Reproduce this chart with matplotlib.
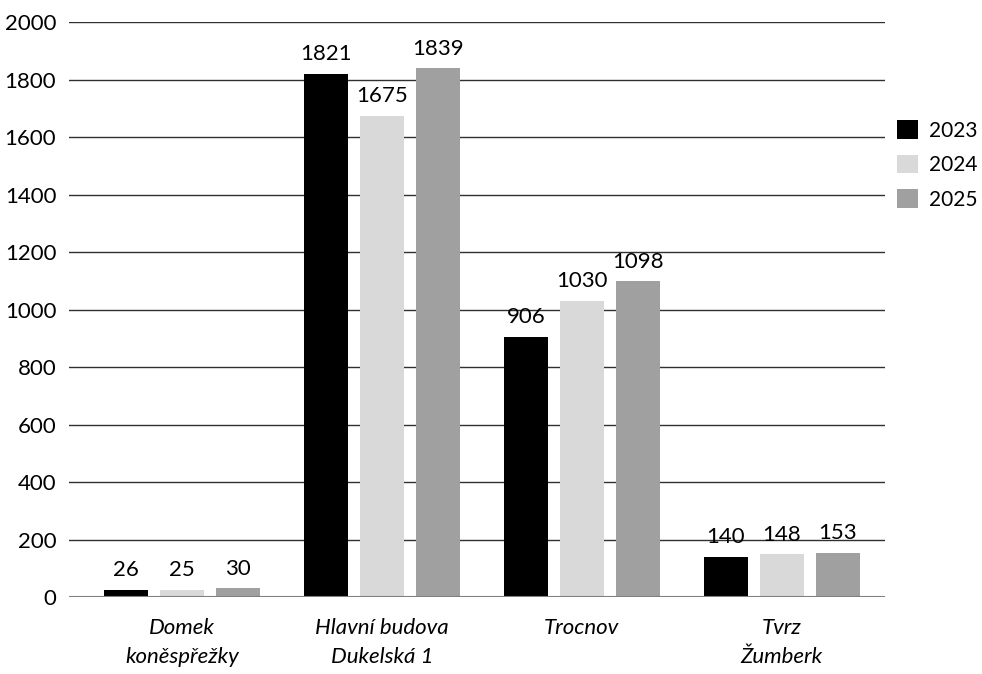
import numpy as np
import matplotlib.pyplot as plt

# Data
categories = ["Domek\nkoněspřežky", "Hlavní budova\nDukelská 1", "Trocnov", "Tvrz\nŽumberk"]
years = ["2023", "2024", "2025"]
values_2023 = [26, 1821, 906, 140]
values_2024 = [25, 1675, 1030, 148]
values_2025 = [30, 1839, 1098, 153]
y_ticks = [0, 200, 400, 600, 800, 1000, 1200, 1400, 1600, 1800, 2000]

colors = ["#000000", "#d9d9d9", "#a0a0a0"]

plt.rcParams["font.family"] = ["Lato", "DejaVu Sans"]
fsize = 16

fig = plt.figure(figsize=(9.82, 6.74), dpi=100)
ax = fig.add_axes([0.070, 0.1142, 0.831, 0.853])

x = np.arange(len(categories))
width = 0.22
series = [values_2023, values_2024, values_2025]
for i, (vals, year) in enumerate(zip(series, years)):
    bars = ax.bar(x + (i - 1) * 0.28, vals, width, color=colors[i], label=year, zorder=3)
    for b, v in zip(bars, vals):
        ax.annotate(str(v), (b.get_x() + b.get_width() / 2, v), xytext=(0, 7),
                    textcoords="offset points", ha="center", va="bottom",
                    fontsize=fsize, zorder=4)

ax.set_xlim(-0.565, 3.515)
ax.set_ylim(0, 2000)
ax.set_yticks(y_ticks)
ax.set_yticklabels([str(t) for t in y_ticks], fontsize=fsize)
ax.set_xticks(x)
ax.set_xticklabels(categories, fontsize=fsize, style="italic", linespacing=1.6)
ax.tick_params(axis="y", length=0, pad=9)
ax.tick_params(axis="x", length=0, pad=15)

for t in y_ticks[1:]:
    ax.axhline(t, color="#303030", lw=1, zorder=1)
ax.axhline(0, color="#808080", lw=1.5, zorder=5)
for s in ax.spines.values():
    s.set_visible(False)

ax.legend(loc="upper left", bbox_to_anchor=(0.997, 0.855), frameon=False, fontsize=15,
          handlelength=1.0, handleheight=1.0, handletextpad=0.55, labelspacing=0.68,
          borderaxespad=0.3)

fig.savefig("out.png", dpi=100)
